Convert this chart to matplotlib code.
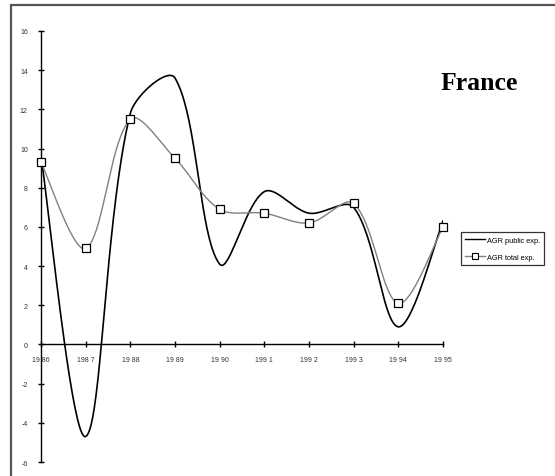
import numpy as np
import matplotlib
matplotlib.use("Agg")
import matplotlib.pyplot as plt
from matplotlib.patches import Rectangle
from matplotlib.lines import Line2D

years = [1986, 1987, 1988, 1989, 1990, 1991, 1992, 1993, 1994, 1995]
public_exp = [9.6, -4.7, 11.8, 13.6, 4.1, 7.8, 6.7, 7.0, 0.9, 6.3]
total_exp = [9.3, 4.9, 11.5, 9.5, 6.9, 6.7, 6.2, 7.2, 2.1, 6.0]
year_labels = ["19 86", "198 7", "19 88", "19 89", "19 90", "199 1",
               "199 2", "199 3", "19 94", "19 95"]
y_ticks = [-6, -4, -2, 0, 2, 4, 6, 8, 10, 12, 14, 16]
series_names = ["AGR public exp.", "AGR total exp."]

W, H = 555, 477
AX_LEFT, AX_RIGHT, AX_TOP, AX_BOTTOM = 41, 443, 32, 463
X_MIN, X_MAX, Y_MIN, Y_MAX = 1986, 1995, -6, 16


def smooth(x, y, sx, sy, n=40):
    """Smoothed line through the points: cubic Bezier segments whose control
    points follow the neighbour direction, weighted by on-screen chord length."""
    p = np.column_stack([np.asarray(x, float) * sx, np.asarray(y, float) * sy])
    k = len(p)
    tang = np.zeros_like(p)
    w_in = np.zeros(k)
    w_out = np.zeros(k)
    for i in range(k):
        if i == 0:
            tang[i] = p[1] - p[0]
            w_out[i] = 0.5
        elif i == k - 1:
            tang[i] = p[-1] - p[-2]
            w_in[i] = 0.5
        else:
            tang[i] = p[i + 1] - p[i - 1]
            d_in = np.hypot(*(p[i] - p[i - 1]))
            d_out = np.hypot(*(p[i + 1] - p[i]))
            w_in[i] = d_in / (d_in + d_out)
            w_out[i] = d_out / (d_in + d_out)
    t = np.linspace(0, 1, n)[:, None]
    pts = []
    for i in range(k - 1):
        b0 = p[i]
        b1 = p[i] + tang[i] * w_out[i] / 3
        b2 = p[i + 1] - tang[i + 1] * w_in[i + 1] / 3
        b3 = p[i + 1]
        seg = ((1 - t) ** 3 * b0 + 3 * (1 - t) ** 2 * t * b1
               + 3 * (1 - t) * t ** 2 * b2 + t ** 3 * b3)
        pts.append(seg if i == 0 else seg[1:])
    pts = np.vstack(pts)
    return pts[:, 0] / sx, pts[:, 1] / sy


fig = plt.figure(figsize=(W / 100, H / 100), dpi=100)
fig.patch.set_facecolor("white")

# outer frame (runs off the right and bottom edges)
fig.patches.append(Rectangle((11 / W, -0.05), 1.2, 1 - 6 / H + 0.05,
                             transform=fig.transFigure, fill=False,
                             edgecolor="#555555", linewidth=1.6))

ax = fig.add_axes([AX_LEFT / W, 1 - AX_BOTTOM / H,
                   (AX_RIGHT - AX_LEFT) / W, (AX_BOTTOM - AX_TOP) / H])
ax.set_facecolor("none")
ax.set_xlim(X_MIN, X_MAX)
ax.set_ylim(Y_MIN, Y_MAX)

# pixel scale of each axis, used for the chord weighting of the smoothing
sx = (AX_RIGHT - AX_LEFT) / (X_MAX - X_MIN)
sy = (AX_BOTTOM - AX_TOP) / (Y_MAX - Y_MIN)

xs, ys = smooth(years, public_exp, sx, sy)
ax.plot(xs, ys, color="black", linewidth=1.2, zorder=3)
xs, ys = smooth(years, total_exp, sx, sy)
ax.plot(xs, ys, color="#808080", linewidth=1.0, zorder=3)
ax.plot(years, total_exp, linestyle="none", marker="s", markersize=6,
        markerfacecolor="white", markeredgecolor="black",
        markeredgewidth=0.9, zorder=4, clip_on=False)

for s in ("top", "right"):
    ax.spines[s].set_visible(False)
ax.spines["bottom"].set_position(("data", 0))
ax.spines["left"].set_position(("data", X_MIN))
for s in ("bottom", "left"):
    ax.spines[s].set_linewidth(1.0)
    ax.spines[s].set_color("black")

ax.set_xticks(years)
ax.set_xticklabels(year_labels)
ax.set_yticks(y_ticks)
ax.set_yticklabels([str(v) for v in y_ticks])
ax.tick_params(axis="both", direction="inout", length=5, width=1.0,
               labelsize=5, labelcolor="#333333")
ax.tick_params(axis="x", pad=6)
ax.tick_params(axis="y", pad=7)
for lab in ax.get_xticklabels() + ax.get_yticklabels():
    lab.set_fontfamily("Liberation Sans")

fig.text(479 / W, 1 - 83 / H, "France", fontsize=18.5, fontweight="bold",
         fontfamily="Liberation Serif", ha="center", va="center")

handles = [
    Line2D([], [], color="black", linewidth=1.0),
    Line2D([], [], color="#808080", linewidth=1.0, marker="s", markersize=5,
           markerfacecolor="white", markeredgecolor="black",
           markeredgewidth=0.8),
]
leg = fig.legend(handles, series_names, loc="upper left",
                 bbox_to_anchor=(461 / W, 1 - 233 / H),
                 prop={"family": "Liberation Sans", "size": 5.3},
                 frameon=True, fancybox=False, handlelength=2.6,
                 handletextpad=0.3, borderpad=0.6, labelspacing=1.4,
                 borderaxespad=0)
leg.get_frame().set_edgecolor("black")
leg.get_frame().set_linewidth(0.9)

fig.savefig("out.png", dpi=100, facecolor="white")
